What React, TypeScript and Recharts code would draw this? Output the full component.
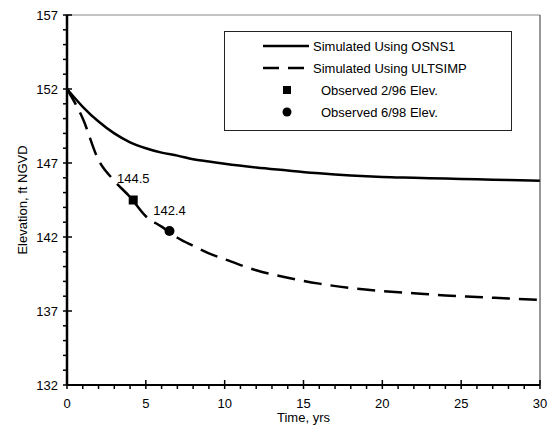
import {
  ComposedChart,
  LabelList,
  Legend,
  Line,
  ReferenceLine,
  Scatter,
  XAxis,
  YAxis,
} from 'recharts';

const FONT = '"Liberation Sans", Arial, sans-serif';

// time since start, yrs
const years = [0, 1, 2, 3, 4, 5, 6, 7, 8, 9, 10, 12, 14, 16, 18, 20, 22, 24, 26, 28, 30];
// simulated elevation, ft NGVD
const osns1 = [
  152, 150.8, 149.8, 149.0, 148.4, 148.0, 147.7, 147.5, 147.25, 147.1, 146.95, 146.7, 146.5,
  146.3, 146.15, 146.05, 146.0, 145.95, 145.9, 145.85, 145.8,
];
const ultsimp = [
  152, 150.0, 147.2, 145.8, 144.7, 143.4, 142.7, 141.95, 141.4, 140.9, 140.5, 139.75, 139.25,
  138.85, 138.55, 138.35, 138.2, 138.05, 137.95, 137.85, 137.75,
];
const observedFeb96 = [{ t: 4.2, elev: 144.5, label: '144.5' }];
const observedJun98 = [{ t: 6.5, elev: 142.4, label: '142.4' }];

const xTicks = Array.from({ length: 31 }, (_, i) => i);
const yTicks = Array.from({ length: 26 }, (_, i) => 132 + i);

const data = years.map((t, i) => ({ t, osns1: osns1[i], ultsimp: ultsimp[i] }));

function XTick({ x, y, payload }: any) {
  const major = payload.value % 5 === 0;
  return (
    <g>
      <line x1={x} x2={x} y1={major ? y - 5 : y} y2={y + 4} stroke="#000" strokeWidth={1.5} />
      {major && (
        <text x={x} y={y + 23} textAnchor="middle" fontSize={13} fill="#000" fontFamily={FONT}>
          {payload.value}
        </text>
      )}
    </g>
  );
}

function YTick({ x, y, payload }: any) {
  const major = (payload.value - 132) % 5 === 0;
  return (
    <g>
      <line x1={x - 4} x2={major ? x + 5 : x} y1={y} y2={y} stroke="#000" strokeWidth={1.5} />
      {major && (
        <text x={x - 9} y={y + 5} textAnchor="end" fontSize={13} fill="#000" fontFamily={FONT}>
          {payload.value}
        </text>
      )}
    </g>
  );
}

function RightTick({ x, y }: any) {
  return <line x1={x - 3} x2={x} y1={y} y2={y} stroke="#444" strokeWidth={1} />;
}

function LegendBox() {
  const row = { height: 22, display: 'flex', alignItems: 'center' } as const;
  return (
    <div
      style={{
        border: '1px solid #222',
        boxSizing: 'border-box',
        width: 288,
        height: 100,
        paddingTop: 3,
        fontFamily: FONT,
        fontSize: 13,
        color: '#000',
      }}
    >
      <div style={row}>
        <svg width={88} height={10}>
          <line x1={38} x2={84} y1={5} y2={5} stroke="#000" strokeWidth={2.5} />
        </svg>
        <span>Simulated Using OSNS1</span>
      </div>
      <div style={row}>
        <svg width={88} height={10}>
          <line x1={38} x2={84} y1={5} y2={5} stroke="#000" strokeWidth={2.5} strokeDasharray="16 9" />
        </svg>
        <span>Simulated Using ULTSIMP</span>
      </div>
      <div style={row}>
        <svg width={96} height={10}>
          <rect x={58} y={1} width={8} height={8} fill="#000" />
        </svg>
        <span>Observed 2/96 Elev.</span>
      </div>
      <div style={row}>
        <svg width={96} height={10}>
          <circle cx={62} cy={5} r={4.5} fill="#000" />
        </svg>
        <span>Observed 6/98 Elev.</span>
      </div>
    </div>
  );
}

export default function App() {
  return (
    <div style={{ position: 'absolute', left: 0, top: 0, background: '#fff' }}>
      <ComposedChart
        width={553}
        height={429}
        data={data}
        margin={{ top: 15, right: 12, bottom: 14, left: 27 }}
        style={{ fontFamily: FONT }}
      >
        <XAxis
          dataKey="t"
          type="number"
          domain={[0, 30]}
          ticks={xTicks}
          interval={0}
          tickSize={0}
          tickMargin={0}
          tickLine={false}
          tick={<XTick />}
          height={30}
          axisLine={{ stroke: '#000', strokeWidth: 2 }}
          label={{ value: 'Time, yrs', position: 'bottom', offset: -2, fill: '#000', fontSize: 13 }}
        />
        <YAxis
          type="number"
          domain={[132, 157]}
          ticks={yTicks}
          interval={0}
          tickSize={0}
          tickMargin={0}
          tickLine={false}
          tick={<YTick />}
          width={40}
          axisLine={{ stroke: '#000', strokeWidth: 2.5 }}
          label={{
            value: 'Elevation, ft NGVD',
            angle: -90,
            position: 'insideLeft',
            offset: -5,
            fill: '#000',
            fontSize: 13,
            style: { textAnchor: 'middle' },
          }}
        />
        <YAxis
          yAxisId="right"
          orientation="right"
          type="number"
          domain={[132, 157]}
          ticks={yTicks}
          interval={0}
          tickSize={0}
          tickMargin={0}
          tickLine={false}
          tick={<RightTick />}
          width={1}
          axisLine={{ stroke: '#333', strokeWidth: 1 }}
        />
        <ReferenceLine y={157} stroke="#888" strokeWidth={1} />
        <Legend
          layout="vertical"
          align="center"
          verticalAlign="middle"
          content={() => <LegendBox />}
          wrapperStyle={{ left: 224, top: 31, width: 288 }}
        />
        <Line
          dataKey="osns1"
          type="monotone"
          stroke="#000"
          strokeWidth={2.5}
          dot={false}
          isAnimationActive={false}
        />
        <Line
          dataKey="ultsimp"
          type="monotone"
          stroke="#000"
          strokeWidth={2.5}
          strokeDasharray="18 9"
          dot={false}
          isAnimationActive={false}
        />
        <Scatter
          data={observedFeb96}
          dataKey="elev"
          fill="#000"
          isAnimationActive={false}
          shape={(p: any) => <rect x={p.cx - 4.5} y={p.cy - 4.5} width={9} height={9} fill="#000" />}
        >
          <LabelList dataKey="label" position="top" offset={12} fill="#000" fontSize={13} />
        </Scatter>
        <Scatter
          data={observedJun98}
          dataKey="elev"
          fill="#000"
          isAnimationActive={false}
          shape={(p: any) => <circle cx={p.cx} cy={p.cy} r={5} fill="#000" />}
        >
          <LabelList dataKey="label" position="top" offset={12} fill="#000" fontSize={13} />
        </Scatter>
      </ComposedChart>
    </div>
  );
}
